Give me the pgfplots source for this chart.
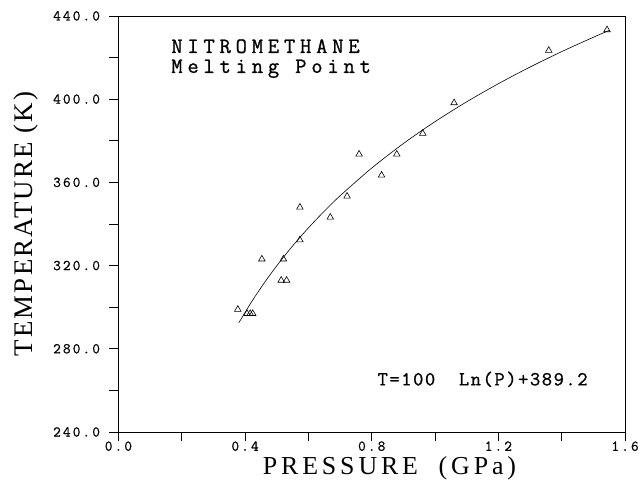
\documentclass[border=0pt]{standalone}
\usepackage{fontspec}
\usepackage{pgfplots}
\pgfplotsset{compat=1.18}
\setmainfont{Liberation Serif}
\newfontfamily\xlabfont[LetterSpace=15]{Liberation Serif}
\newfontfamily\ylabfont[LetterSpace=8]{Liberation Serif}
\newfontfamily\tickfont[LetterSpace=14,FakeBold=0.8]{Latin Modern Mono}
\newfontfamily\titlefont[LetterSpace=22,FakeBold=1]{Latin Modern Mono}
\newfontfamily\eqfont[LetterSpace=8,FakeBold=1]{Latin Modern Mono}

\begin{document}
\begin{tikzpicture}
\begin{axis}[
    scale only axis,
    width=509pt, height=418pt,
    xmin=0, xmax=1.6, ymin=240, ymax=440,
    xtick={0,0.4,0.8,1.2,1.6},
    minor xtick={0.2,0.6,1.0,1.4},
    ytick={240,280,320,360,400,440},
    minor ytick={260,300,340,380,420},
    tick align=outside,
    major tick length=9pt, minor tick length=9pt,
    axis line style={line width=0.8pt},
    every tick/.style={black, line width=0.6pt},
    xtick pos=bottom, ytick pos=left,
    /pgf/number format/assume math mode=true,
    xticklabel={\pgfmathprintnumber[fixed,fixed zerofill,precision=1]{\tick}},
    yticklabel={\pgfmathprintnumber[fixed,fixed zerofill,precision=1]{\tick}},
    tick label style={font=\tickfont\fontsize{15}{15}\selectfont},
    yticklabel style={xshift=-6pt},
    xticklabel style={yshift=3pt},
    xlabel={\xlabfont PRESSURE\ \ (GPa)},
    ylabel={\ylabfont TEMPERATURE (K)},
    xlabel style={font=\fontsize{26}{26}\selectfont, at={(axis description cs:0.535,0)}, anchor=base, yshift=-43pt, inner sep=1pt},
    ylabel style={font=\fontsize{27}{27}\selectfont, at={(axis description cs:-0.169,0.5)}, anchor=base, rotate=0},
]
% measured points
\addplot[only marks, mark=triangle, mark size=3.8pt, mark options={line width=0.6pt}] coordinates {
    (0.377,298.9) (0.406,296.9) (0.416,296.9) (0.424,296.9)
    (0.453,323.1) (0.514,312.9) (0.521,323.1) (0.531,312.9)
    (0.573,348.0) (0.573,332.3) (0.669,343.2) (0.722,353.3)
    (0.760,373.5) (0.831,363.4) (0.879,373.5) (0.961,383.5)
    (1.060,398.2) (1.359,423.4) (1.543,433.3)
};
% fitted curve T = 100 ln(P) + 389.2
\addplot[smooth, line width=0.6pt] coordinates {
    (0.38,292.44) (0.42,302.45) (0.46,311.55) (0.50,319.89)
    (0.55,329.41) (0.60,338.12) (0.65,346.12) (0.70,353.53)
    (0.80,366.89) (0.90,378.66) (1.00,389.20) (1.10,398.73)
    (1.20,407.43) (1.30,415.44) (1.40,422.85) (1.50,429.75)
    (1.55,433.03)
};
\node[anchor=base west, font=\titlefont\fontsize{22}{22}\selectfont, inner sep=0pt]
    at (rel axis cs:0.104,0.911) {NITROMETHANE};
\node[anchor=base west, font=\titlefont\fontsize{22}{22}\selectfont, inner sep=0pt]
    at (rel axis cs:0.104,0.863) {Melting Point};
\node[anchor=base east, font=\eqfont\fontsize{20}{20}\selectfont]
    at (rel axis cs:0.933,0.112) {T=100\ \ Ln(P)+389.2};
\end{axis}
\pgfresetboundingbox
\path[use as bounding box] ([xshift=-119pt,yshift=-48pt]current axis.south west)
    rectangle ([xshift=15pt,yshift=16pt]current axis.north east);
\end{tikzpicture}
\end{document}
